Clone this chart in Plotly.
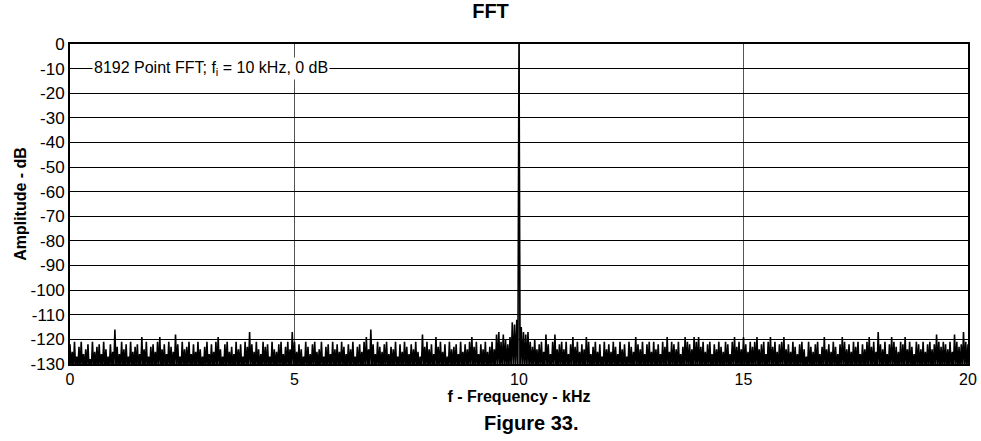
import plotly.graph_objects as go

# FFT magnitude, one value per 0.05 kHz bin (0 .. 20 kHz), dB
F_STEP_KHZ = 0.05
AMPLITUDE_DB = [
    # 0 kHz
    -122, -125, -121, -127, -123, -121, -126, -124, -122, -128, -121, -125, -123, -122, -126, -121, -124, -127, -122, -125,
    # 1 kHz
    -116, -123, -126, -121, -124, -122, -127, -121, -125, -123, -122, -126, -119, -124, -121, -127, -123, -122, -125, -121,
    # 2 kHz
    -119, -124, -122, -126, -121, -123, -125, -118, -122, -127, -121, -124, -123, -121, -126, -122, -125, -121, -124, -127,
    # 3 kHz
    -123, -121, -126, -122, -125, -121, -119, -124, -127, -122, -121, -125, -123, -126, -121, -124, -122, -127, -121, -123,
    # 4 kHz
    -117, -122, -125, -121, -124, -126, -121, -123, -122, -127, -121, -124, -125, -122, -121, -126, -123, -121, -124, -117,
    # 5 kHz
    -121, -125, -122, -124, -127, -121, -123, -126, -122, -121, -125, -124, -121, -127, -123, -122, -126, -121, -124, -122,
    # 6 kHz
    -125, -121, -123, -126, -122, -124, -121, -127, -123, -122, -125, -121, -119, -124, -116, -122, -126, -121, -123, -125,
    # 7 kHz
    -122, -121, -126, -123, -124, -121, -127, -122, -125, -121, -123, -126, -122, -124, -121, -125, -127, -118, -123, -121,
    # 8 kHz
    -124, -122, -126, -119, -123, -121, -125, -122, -127, -121, -124, -123, -122, -126, -121, -125, -122, -124, -121, -119,
    # 9 kHz
    -123, -121, -126, -122, -124, -121, -125, -123, -121, -124, -118, -117, -121, -118, -120, -122, -119, -113, -114, -112,
    # 10 kHz (input tone)
    0, -115, -117, -118, -117, -121, -123, -120, -124, -122, -121, -125, -118, -122, -126, -121, -118, -124, -122, -121,
    # 11 kHz
    -124, -121, -126, -122, -119, -123, -121, -125, -122, -124, -119, -121, -126, -123, -121, -125, -122, -127, -121, -124,
    # 12 kHz
    -122, -125, -121, -123, -126, -121, -124, -122, -127, -121, -123, -125, -119, -122, -124, -121, -126, -122, -121, -125,
    # 13 kHz
    -121, -124, -122, -126, -121, -123, -119, -125, -121, -122, -124, -121, -126, -123, -119, -121, -122, -124, -119, -121,
    # 14 kHz
    -119, -123, -121, -125, -122, -121, -126, -122, -124, -121, -123, -125, -121, -122, -126, -121, -119, -123, -121, -124,
    # 15 kHz
    -119, -122, -125, -121, -123, -121, -119, -124, -122, -121, -126, -121, -119, -123, -121, -125, -122, -121, -119, -124,
    # 16 kHz
    -122, -125, -121, -123, -126, -122, -121, -124, -127, -121, -123, -125, -122, -121, -126, -123, -119, -124, -122, -125,
    # 17 kHz
    -121, -123, -126, -122, -119, -121, -124, -122, -125, -121, -123, -121, -126, -122, -124, -121, -119, -123, -121, -125,
    # 18 kHz
    -117, -122, -124, -121, -126, -122, -119, -121, -123, -125, -121, -122, -119, -124, -121, -123, -126, -121, -122, -124,
    # 19 kHz
    -121, -125, -122, -121, -124, -122, -118, -121, -123, -121, -122, -124, -121, -125, -118, -121, -123, -122, -117, -121,
    # 20 kHz
    -122,
]
FLOOR_DB = -132  # level the trace drops to between bins

X_TICKS = [0, 5, 10, 15, 20]
Y_TICKS = list(range(-130, 1, 10))
Y_TICK_TEXT = [str(v) for v in Y_TICKS]  # plain hyphen, not unicode minus

FONT = "Arial, Liberation Sans, sans-serif"

# zig-zag trace: bin peak -> floor between bins -> next bin peak
xs, ys = [], []
for i, v in enumerate(AMPLITUDE_DB):
    f = i * F_STEP_KHZ
    xs.append(f)
    ys.append(v)
    if i < len(AMPLITUDE_DB) - 1:
        xs.append(f + F_STEP_KHZ / 2)
        ys.append(FLOOR_DB)

fig = go.Figure()
fig.add_trace(
    go.Scatter(
        x=xs,
        y=ys,
        mode="lines",
        line=dict(color="black", width=1.6),
        showlegend=False,
        hoverinfo="skip",
    )
)

fig.update_layout(
    width=981,
    height=441,
    margin=dict(l=70, r=13, t=44, b=77),
    paper_bgcolor="white",
    plot_bgcolor="white",
    font=dict(family=FONT, color="black", size=16),
    title=dict(
        text="<b>FFT</b>",
        x=0.5,
        xanchor="center",
        y=1 - 11 / 441,
        yanchor="middle",
        font=dict(size=20, family=FONT),
    ),
    xaxis=dict(
        range=[0, 20],
        tickvals=X_TICKS,
        ticks="",
        automargin=False,
        showgrid=True,
        gridcolor="#555555",
        gridwidth=1,
        showline=True,
        linecolor="black",
        linewidth=2,
        mirror=True,
        zeroline=False,
        tickfont=dict(size=16),
        title=dict(text="<b>f - Frequency - kHz</b>", font=dict(size=16), standoff=2),
    ),
    yaxis=dict(
        range=[-130, 0],
        tickvals=Y_TICKS,
        ticktext=Y_TICK_TEXT,
        ticks="",
        automargin=False,
        showgrid=True,
        gridcolor="black",
        gridwidth=1,
        showline=True,
        linecolor="black",
        linewidth=2,
        mirror=True,
        zeroline=False,
        tickfont=dict(size=17),
        title=dict(text="<b>Amplitude - dB</b>", font=dict(size=16), standoff=0),
    ),
    annotations=[
        dict(
            x=0.5,
            y=-10,
            xref="x",
            yref="y",
            xanchor="left",
            yanchor="middle",
            text="8192 Point FFT; f<sub>i</sub> = 10 kHz, 0 dB",
            showarrow=False,
            bgcolor="white",
            borderpad=1,
            font=dict(size=16, family=FONT),
        ),
        dict(
            x=(531 - 70) / 898,
            y=(364 - 423) / 320,
            xref="paper",
            yref="paper",
            xanchor="center",
            yanchor="middle",
            text="<b>Figure 33.</b>",
            showarrow=False,
            font=dict(size=20, family=FONT),
        ),
    ],
)

# drop the page's default body margin so the figure sits at the window corner
fig.write_html(
    "out.html",
    config={"displayModeBar": False},
    post_script="document.body.style.margin='0';",
)
